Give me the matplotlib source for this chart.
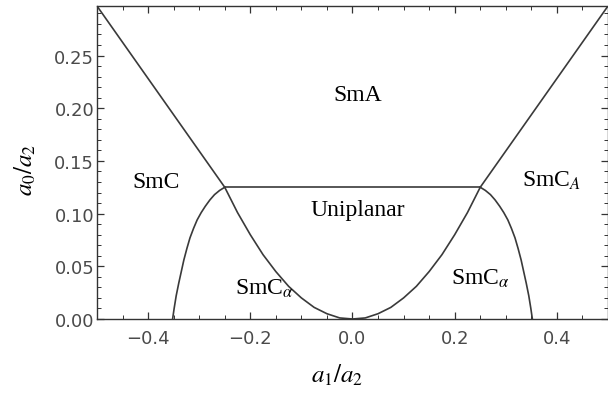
import matplotlib
matplotlib.use('Agg')
import matplotlib.pyplot as plt
from matplotlib.ticker import MultipleLocator

plt.rcParams['mathtext.fontset'] = 'stix'

# boundary lines (a1/a2, a0/a2)
smc_smA_x = [-0.5, -0.25]
smc_smA_y = [0.297, 0.125]
smcA_smA_x = [0.25, 0.5]
smcA_smA_y = [0.125, 0.297]

flat_x = [-0.25, 0.25]
flat_y = [0.125, 0.125]

# uniplanar / SmC_alpha boundary
para_x = [-0.25, -0.225, -0.2, -0.175, -0.15, -0.125, -0.1, -0.075, -0.05, -0.025, 0.0,
          0.025, 0.05, 0.075, 0.1, 0.125, 0.15, 0.175, 0.2, 0.225, 0.25]
para_y = [0.125, 0.101, 0.080, 0.061, 0.045, 0.031, 0.020, 0.011, 0.005, 0.001, 0.0,
          0.001, 0.005, 0.011, 0.020, 0.031, 0.045, 0.061, 0.080, 0.101, 0.125]

# SmC / SmC_alpha dome (left); right one is its mirror
dome_x = [-0.352, -0.349, -0.345, -0.340, -0.335, -0.330, -0.324, -0.318, -0.311,
          -0.304, -0.296, -0.288, -0.279, -0.270, -0.260, -0.25]
dome_y = [0.0, 0.010, 0.022, 0.034, 0.045, 0.056, 0.067, 0.077, 0.086,
          0.094, 0.101, 0.107, 0.113, 0.118, 0.122, 0.125]

phase_labels = ['SmA', 'SmC', r'SmC$_{\mathit{A}}$', 'Uniplanar',
                r'SmC$_{\alpha}$', r'SmC$_{\alpha}$']
label_x = [0.01, -0.385, 0.39, 0.01, -0.172, 0.25]
label_y = [0.213, 0.130, 0.132, 0.104, 0.030, 0.039]

fig = plt.figure(figsize=(6.08, 4.02), dpi=100)
ax = fig.add_axes([0.1595, 0.204, 0.8405, 0.7786])

lc = '#3a3a3a'
lw = 1.2
ax.plot(smc_smA_x, smc_smA_y, color=lc, lw=lw)
ax.plot(smcA_smA_x, smcA_smA_y, color=lc, lw=lw)
ax.plot(flat_x, flat_y, color=lc, lw=lw)
ax.plot(para_x, para_y, color=lc, lw=lw)
ax.plot(dome_x, dome_y, color=lc, lw=lw)
ax.plot([-v for v in dome_x], dome_y, color=lc, lw=lw)

for txt, x, y in zip(phase_labels, label_x, label_y):
    ax.text(x, y, txt, ha='center', va='center', fontsize=17,
            family='Liberation Serif')

ax.set_xlim(-0.5, 0.5)
ax.set_ylim(0, 0.297)
ax.xaxis.set_major_locator(MultipleLocator(0.2))
ax.xaxis.set_minor_locator(MultipleLocator(0.05))
ax.yaxis.set_major_locator(MultipleLocator(0.05))
ax.yaxis.set_minor_locator(MultipleLocator(0.01))
ax.xaxis.set_major_formatter(plt.FuncFormatter(lambda v, p: f'{v:.1f}'.replace('-', '\u2212')))
ax.yaxis.set_major_formatter(plt.FuncFormatter(lambda v, p: f'{v:.2f}'))

ax.tick_params(which='both', direction='in', top=True, right=True,
               color='#333333', labelcolor='#4a4a4a', labelsize=13)
ax.tick_params(which='major', length=5, width=0.9)
ax.tick_params(which='minor', length=3, width=0.7)
ax.tick_params(axis='x', pad=7)
ax.tick_params(axis='y', pad=2)
for s in ax.spines.values():
    s.set_color('#333333')
    s.set_linewidth(1.0)

ax.set_xlabel(r'$a_1/a_2$', fontsize=18)
ax.set_ylabel(r'$a_0/a_2$', fontsize=18)
ax.xaxis.set_label_coords(0.47, -0.135)
ax.yaxis.set_label_coords(-0.115, 0.48)

fig.savefig('out.png', dpi=100)
